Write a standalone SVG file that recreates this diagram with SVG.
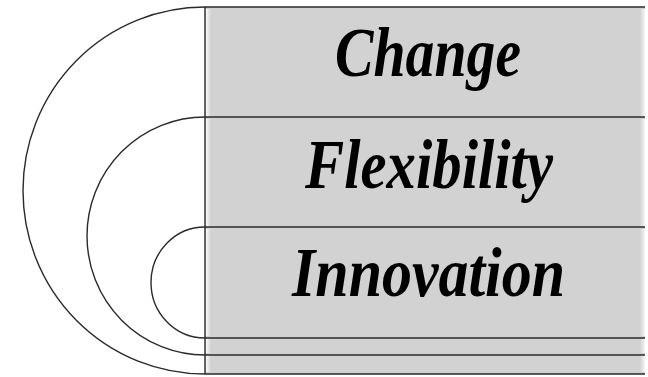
<svg xmlns="http://www.w3.org/2000/svg" width="648" height="377" viewBox="0 0 648 377">
<defs>
<linearGradient id="lh" x1="0" y1="0" x2="1" y2="0">
<stop offset="0" stop-color="#ffffff" stop-opacity="0.9"/>
<stop offset="1" stop-color="#ffffff" stop-opacity="0"/>
</linearGradient>
<linearGradient id="rh" x1="0" y1="0" x2="1" y2="0">
<stop offset="0" stop-color="#ffffff" stop-opacity="0"/>
<stop offset="1" stop-color="#ffffff" stop-opacity="0.8"/>
</linearGradient>
<style>
.band{fill:#d2d2d2}
.edge{fill:none;stroke:#2a2a2a;stroke-width:1.4}
.hl{fill:url(#lh)}
.hr{fill:url(#rh)}
.lbl{font-family:"Liberation Serif","DejaVu Serif",serif;font-style:italic;font-weight:bold;font-size:70px;fill:#000;text-anchor:start}
</style>
</defs>
<rect width="648" height="377" fill="#ffffff"/>
<g id="outer">
<rect class="band" x="205" y="7" width="440" height="367"/>
<rect class="hl" x="206" y="9" width="5" height="363"/>
<rect class="hr" x="640" y="9" width="5" height="363"/>
<path class="edge" d="M645,7 H205 A182,183.5 0 0 0 205,374 H645"/>
<text class="lbl" x="335" y="76" textLength="186" lengthAdjust="spacingAndGlyphs">Change</text>
</g>
<g id="middle">
<rect class="band" x="205" y="117" width="440" height="238"/>
<rect class="hl" x="206" y="119" width="5" height="234"/>
<rect class="hr" x="640" y="119" width="5" height="234"/>
<path class="edge" d="M645,117 H205 A118,119 0 0 0 205,355 H645"/>
<text class="lbl" x="305" y="188" textLength="248" lengthAdjust="spacingAndGlyphs">Flexibility</text>
</g>
<g id="inner">
<rect class="band" x="205" y="227" width="440" height="111"/>
<rect class="hl" x="206" y="229" width="5" height="107"/>
<rect class="hr" x="640" y="229" width="5" height="107"/>
<path class="edge" d="M645,227 H205 A54,55.5 0 0 0 205,338 H645"/>
<text class="lbl" x="292" y="296" textLength="273" lengthAdjust="spacingAndGlyphs">Innovation</text>
</g>
<g id="connectors">
<line class="edge" x1="205" y1="7" x2="205" y2="374"/>
</g>
</svg>
